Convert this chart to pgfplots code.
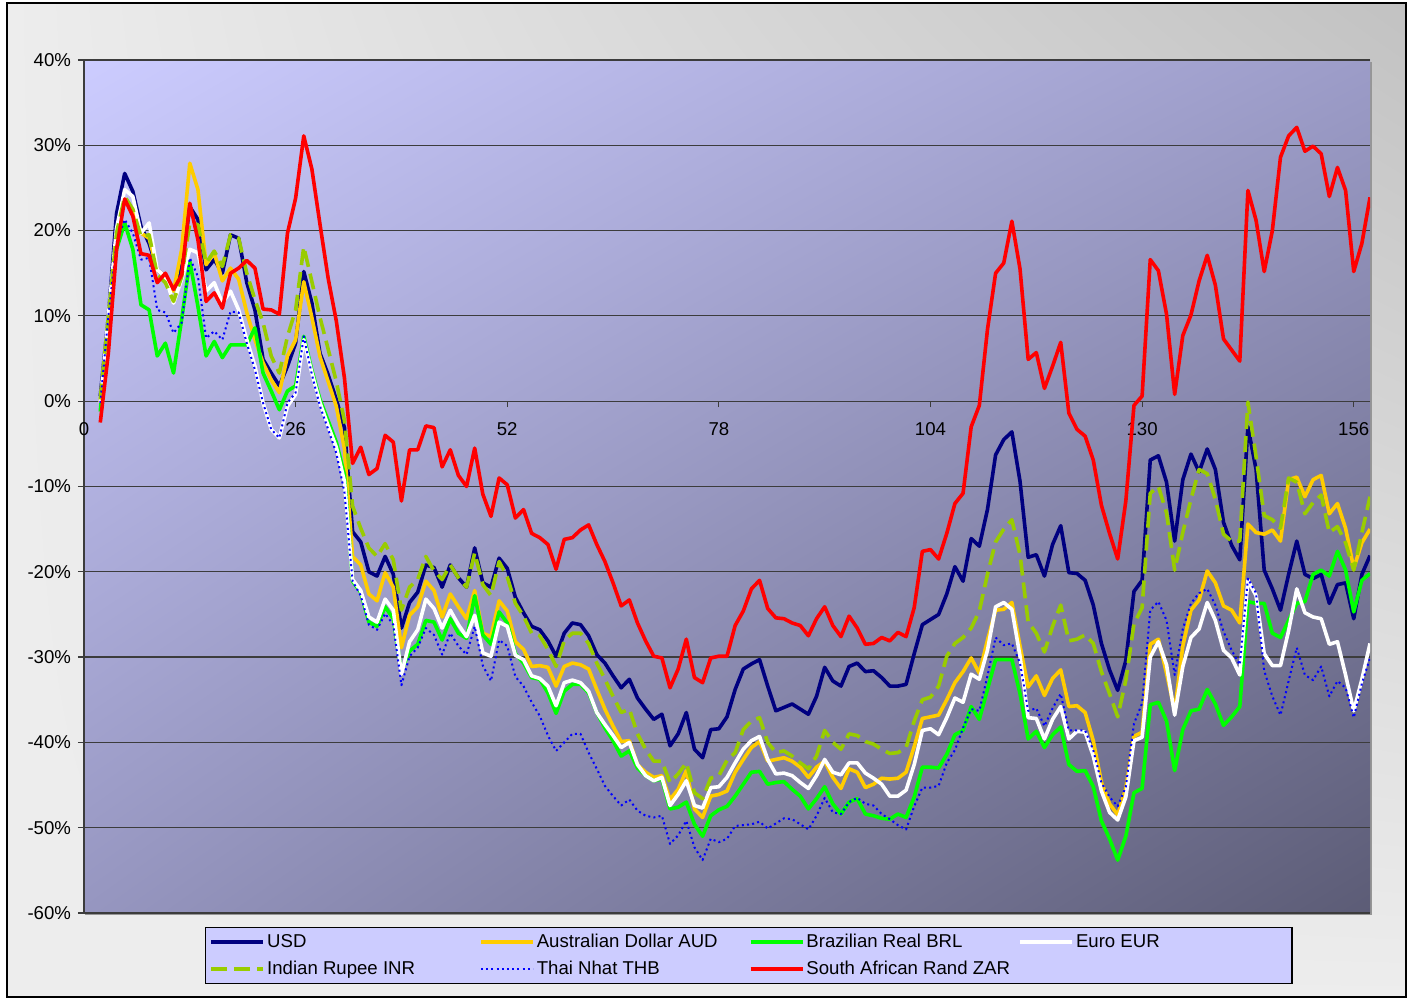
\documentclass[border=0pt]{standalone}
\usepackage{fontspec}
\setmainfont{Liberation Sans}
\usepackage{pgfplots}
\usepackage{pgfplotstable}
\usetikzlibrary{shadings}
\pgfplotsset{compat=1.18}
\definecolor{usd}{RGB}{0,0,128}
\definecolor{aud}{RGB}{255,204,0}
\definecolor{brl}{RGB}{0,255,0}
\definecolor{inr}{RGB}{153,204,0}
\definecolor{thb}{RGB}{0,0,255}
\definecolor{zar}{RGB}{255,0,0}
\definecolor{pa1}{RGB}{204,204,255}
\definecolor{pa2}{RGB}{156,156,200}
\definecolor{pa3}{RGB}{150,150,192}
\definecolor{pa4}{RGB}{92,92,118}
\definecolor{bgA}{RGB}{237,237,237}
\definecolor{bgB}{RGB}{194,194,194}
\definecolor{gridc}{RGB}{60,60,60}
\definecolor{legfill}{RGB}{204,204,255}
\definecolor{shadowc}{RGB}{150,150,150}
\newcommand{\legtxt}[1]{\makebox[105pt][l]{\rule[-2pt]{0pt}{9pt}#1}}

\pgfplotstableread{
x usd aud brl eur inr thb zar
2 0.6 -0.2 -1.2 -0.2 0.2 -0.2 -2.5
3 10 9 9.2 10 10 10 5.7
4 22 19.3 17.8 20.3 19.7 18.6 17.8
5 26.7 23.7 20.9 24.8 24 21.3 23.7
6 24.6 22.3 17.8 24 22.5 19.7 21.7
7 20.5 19.7 11.3 19.7 19.3 16.6 17.3
8 18.5 19.1 10.7 20.9 19.5 16.8 17.1
9 15.4 15.4 5.3 15.4 14.8 10.7 13.9
10 14.6 14.6 6.8 14.6 13.9 10.4 15
11 13 12.9 3.3 11.5 11.7 8 13.1
12 15.8 17.8 9.6 14.3 14.6 9.2 14.8
13 22.8 27.9 16.4 17.8 20.9 16.8 23.2
14 21.3 24.8 11.1 17.4 20.7 14.6 18.9
15 15.4 16 5.3 12.9 16.2 7.4 11.7
16 16.6 17.4 7 13.9 17.6 8.2 12.7
17 15 14.1 5.1 11.5 15.8 7.2 10.9
18 19.5 15.6 6.6 12.9 19.5 10.5 15
19 19.1 14.3 6.6 10.7 19.1 10.4 15.6
20 13.9 10.4 6.6 7.2 15 6.8 16.5
21 10.7 7.2 8.6 4.1 11.9 3.7 15.6
22 4.9 4.5 3.3 -0.2 9.2 -0.2 10.8
23 3.3 2.5 1.2 -3.3 5.3 -3.3 10.7
24 1.8 1 -1 -4.3 3.3 -4.3 10.2
25 4.1 5.3 1.2 -0.6 7.6 -0.2 19.7
26 6.8 7.2 1.8 0.8 10.7 1 23.8
27 15.2 14 7.6 7.2 18.1 7.6 31.1
28 11.5 9.8 3.6 3.3 14 3.1 27.2
29 5.6 5.2 0.2 -0.2 9.8 -0.6 20.7
30 3.1 2.3 -2.3 -2.9 6.1 -3.3 14.4
31 0.2 -0.6 -4.8 -5.4 2.3 -6.1 9.4
32 -3.1 -5.6 -8.6 -9.4 -2.3 -10.7 2.7
33 -15.3 -18.2 -21.1 -20.9 -12.3 -21.1 -7.3
34 -16.5 -19.2 -22.4 -22.2 -14.9 -22.8 -5.4
35 -20 -22.6 -25.9 -25.3 -17.2 -26.2 -8.6
36 -20.5 -23.4 -26.4 -25.9 -18.2 -26.8 -7.9
37 -18.2 -20.1 -24.1 -23.2 -16.7 -24.9 -4
38 -20.3 -21.8 -25.5 -24.5 -18.6 -26.2 -4.8
39 -26.6 -28.9 -31.6 -32 -24.5 -33.3 -11.7
40 -23.6 -25.1 -29.3 -28.2 -21.8 -29.9 -5.7
41 -22.4 -24.1 -28.5 -26.8 -20.9 -28.9 -5.7
42 -19.2 -21.1 -25.7 -23.2 -18.2 -26.6 -2.9
43 -19.5 -22.2 -25.9 -24.3 -19.9 -27.4 -3.1
44 -21.8 -25.3 -28 -26.6 -20.9 -29.7 -7.7
45 -19.2 -22.6 -25.5 -24.5 -19.2 -27.2 -5.7
46 -20.7 -24.1 -27.2 -26.2 -20.7 -28.7 -8.7
47 -21.8 -25.5 -27.8 -27.6 -21.8 -29.7 -10
48 -17.2 -22.2 -22.8 -25.1 -17.8 -26.4 -5.5
49 -21.3 -27.2 -27.4 -29.5 -21.5 -31 -10.9
50 -21.8 -27.6 -28.5 -29.9 -22.8 -32.8 -13.5
51 -18.4 -23.4 -24.7 -25.9 -18.8 -28 -9
52 -19.6 -24.6 -26 -26.4 -20.6 -28.7 -9.8
53 -23 -28.2 -29.6 -29.8 -23.7 -32.3 -13.7
54 -24.8 -29.1 -30.7 -30.3 -25.2 -33.4 -12.7
55 -26.4 -31.1 -32.4 -32.2 -27.2 -35.3 -15.5
56 -26.8 -31 -32.6 -32.5 -27.5 -36.9 -16
57 -28.1 -31.2 -34.2 -33.4 -29.1 -39.2 -16.8
58 -29.9 -33.4 -36.6 -35.7 -31.1 -41 -19.7
59 -27.2 -31.1 -34 -33 -28.1 -40 -16.2
60 -26 -30.7 -33.2 -32.7 -27.2 -39 -16
61 -26.2 -30.9 -33.2 -33 -27.2 -39 -15.1
62 -27.5 -31.4 -34.2 -34 -28.4 -41.2 -14.5
63 -29.7 -33.8 -36.5 -36.5 -30.7 -43.1 -16.8
64 -30.7 -36.1 -38.3 -37.9 -32.6 -45.1 -18.8
65 -32.2 -38.1 -39.8 -39.2 -34.6 -46.3 -21.3
66 -33.6 -39.9 -41.6 -40.6 -36.5 -47.4 -24
67 -32.6 -39.8 -41 -40 -36.1 -46.7 -23.3
68 -34.8 -42.6 -43 -42.6 -39 -48 -26
69 -36.1 -43.5 -43.9 -43.9 -40.8 -48.6 -28.1
70 -37.3 -44.1 -44.5 -44.5 -42.2 -48.8 -29.9
71 -36.7 -43.9 -44.3 -44.1 -42.2 -48.6 -30.1
72 -40.4 -46.7 -47.8 -47.4 -44.7 -51.9 -33.6
73 -39 -45.5 -47.6 -46.1 -43.7 -50.9 -31.4
74 -36.5 -43.3 -47 -44.5 -42.4 -49.2 -27.9
75 -40.8 -47.8 -49.6 -47.4 -45.9 -52.3 -32.4
76 -41.8 -48.8 -51 -47.7 -46.6 -53.8 -33
77 -38.5 -46.3 -48.6 -45.3 -44.2 -51.3 -30.1
78 -38.4 -46.1 -47.9 -45.2 -43.9 -51.7 -29.9
79 -37 -45.7 -47.5 -44.1 -42.1 -51.3 -29.9
80 -33.8 -43.5 -46.3 -42.4 -41.2 -49.8 -26.3
81 -31.4 -42 -44.9 -40.8 -38.5 -49.7 -24.6
82 -30.8 -40.6 -43.5 -39.8 -37.5 -49.6 -22
83 -30.3 -39.9 -43.4 -39.3 -37.1 -49.3 -21
84 -33.4 -42.2 -44.9 -42 -40 -50.1 -24.3
85 -36.3 -42 -44.7 -43.7 -41.2 -49.5 -25.4
86 -35.9 -41.8 -44.6 -43.6 -41 -48.9 -25.5
87 -35.5 -42.2 -45.5 -43.9 -41.6 -49 -26
88 -36.1 -42.9 -46.3 -44.7 -42.4 -49.6 -26.3
89 -36.7 -44.1 -47.8 -45.4 -43.1 -50.2 -27.5
90 -34.6 -42.9 -46.6 -43.9 -41.6 -48.6 -25.5
91 -31.2 -42.2 -45.2 -42 -38.6 -46.5 -24.1
92 -32.8 -44.1 -47.2 -43.5 -40 -48.2 -26.3
93 -33.4 -45.4 -48.4 -43.8 -40.8 -48.4 -27.6
94 -31.1 -43.1 -47 -42.4 -39 -47 -25.2
95 -30.7 -43.5 -46.6 -42.4 -39.2 -46.5 -26.6
96 -31.7 -45.3 -48.4 -43.6 -39.9 -47.2 -28.5
97 -31.6 -44.9 -48.6 -44.2 -40.2 -47.4 -28.4
98 -32.4 -44.2 -48.9 -44.9 -40.8 -48.4 -27.7
99 -33.4 -44.3 -49 -46.3 -41.3 -49 -28.1
100 -33.4 -44.2 -48.4 -46.3 -41.2 -49.7 -27.1
101 -33.2 -43.5 -48.8 -45.6 -40.6 -50.2 -27.6
102 -29.6 -40.5 -46.4 -42.6 -37.5 -47.5 -24.2
103 -26.2 -37.2 -42.9 -38.6 -35 -45.3 -17.6
104 -25.6 -37 -42.9 -38.4 -34.7 -45.3 -17.4
105 -25 -36.8 -43 -39.1 -33.4 -45.1 -18.5
106 -22.6 -35 -41.4 -37.1 -29.9 -42.4 -15.5
107 -19.4 -33 -39.1 -34.8 -28.4 -40.9 -12
108 -21.1 -31.7 -38.6 -35.3 -27.7 -38.3 -10.8
109 -16.1 -30.1 -35.8 -32 -26.6 -36.1 -3
110 -17 -31.9 -37.3 -32.6 -24.6 -36.3 -0.5
111 -12.7 -28 -33.8 -29.2 -20.3 -32.2 8.4
112 -6.3 -24.5 -30.3 -24.1 -16.5 -27.7 15
113 -4.5 -24.4 -30.3 -23.6 -15 -28.6 16.2
114 -3.6 -23.6 -30.3 -24.4 -13.9 -28.4 21.1
115 -9.4 -28.7 -34.3 -29.9 -18 -30.7 15.5
116 -18.3 -33.5 -39.6 -37.1 -25.9 -36.3 4.9
117 -18 -32.2 -38.7 -37.2 -27.2 -36 5.7
118 -20.5 -34.5 -40.6 -39.6 -29.4 -38.1 1.5
119 -16.8 -32.5 -39.1 -37.3 -26.4 -36 4.1
120 -14.6 -31.5 -38.2 -35.8 -23.9 -34.3 6.9
121 -20.1 -35.8 -42.6 -39.6 -28.1 -38.6 -1.4
122 -20.2 -35.7 -43.4 -38.7 -27.9 -38.6 -3.3
123 -21 -36.5 -43.3 -38.8 -27.4 -38.6 -4.1
124 -23.9 -39.8 -45.2 -41.6 -28.4 -40.9 -6.9
125 -28.4 -44.7 -49.2 -45.7 -31.7 -44.7 -12.2
126 -31.5 -47.2 -51.3 -48.2 -34.3 -46.4 -15.5
127 -33.9 -48.5 -53.8 -49.1 -37 -47.5 -18.5
128 -30.4 -45.4 -51 -46.4 -32.7 -45.2 -11.7
129 -22.3 -39.3 -45.9 -39.8 -26.1 -37.8 -0.5
130 -21 -38.8 -45.4 -39.4 -24.2 -35.4 0.6
131 -6.9 -28.5 -35.6 -30 -10.8 -24.5 16.6
132 -6.4 -27.9 -35.3 -28.2 -10 -23.5 15.3
133 -9.5 -31.9 -37.5 -30.9 -13.1 -25.7 10.2
134 -16.4 -36.3 -43.3 -36.8 -19.8 -32.1 0.8
135 -9.2 -28.7 -38.5 -31.1 -15.4 -26.7 7.7
136 -6.2 -24.5 -36.3 -27.7 -11.5 -23.7 10.1
137 -8.3 -23.3 -36.1 -26.7 -8 -22.5 14.1
138 -5.6 -19.9 -33.8 -23.6 -8.5 -22 17.1
139 -8 -21.3 -35.5 -25.7 -11.5 -23.9 13.6
140 -14.2 -24 -38 -29.2 -15.6 -27 7.3
141 -16.9 -24.5 -37 -30.1 -16.4 -29.2 6
142 -18.6 -26 -35.8 -32.1 -16.4 -30.9 4.7
143 -3 -14.4 -23.5 -21 -0.1 -20.8 24.7
144 -8 -15.4 -23.7 -22.8 -6.5 -22.5 21.2
145 -19.8 -15.6 -23.7 -29.6 -13.4 -31.6 15.2
146 -22 -15.1 -27.2 -31 -13.9 -34.6 20
147 -24.5 -16.4 -27.7 -31 -14.9 -36.8 28.6
148 -20.3 -9.2 -25.7 -26.9 -9 -32.8 31.1
149 -16.4 -8.9 -23.7 -22 -9.5 -28.9 32.1
150 -20.3 -11.2 -23.5 -24.8 -13.2 -32.1 29.3
151 -20.8 -9.2 -20.3 -25.3 -11.9 -32.7 29.9
152 -20.3 -8.7 -19.8 -25.5 -11 -31.1 29
153 -23.7 -13.2 -20.5 -28.5 -15.4 -34.6 24
154 -21.5 -12 -17.6 -28.2 -14.7 -32.8 27.4
155 -21.3 -14.9 -19.8 -32.1 -16.6 -33.6 24.7
156 -25.5 -19.6 -24.7 -36.3 -19.8 -37.1 15.2
157 -20.3 -16.6 -21 -32.6 -15.4 -33.1 18.5
158 -18.1 -15 -20.2 -28.4 -11.2 -30.1 23.9
}\data

\begin{document}
\begin{tikzpicture}
\path[use as bounding box, fill=white] (0,0) rectangle (706pt,500pt);
\shade[upper left=bgA, upper right=bgB, lower left=bgA, lower right=bgA] (3.5pt,1.5pt) rectangle (703pt,498.5pt);
\draw[black, line width=0.9pt] (3.5pt,1.5pt) rectangle (703pt,498.5pt);
\draw[shadowc, line width=1pt] (685.5pt,469pt) -- (685.5pt,43pt) -- (42.5pt,43pt);
\begin{axis}[
  at={(42pt,43.5pt)}, anchor=south west,
  scale only axis, width=643pt, height=426.5pt,
  xmin=0, xmax=158, ymin=-60, ymax=40,
  axis x line*=middle, axis y line*=left,
  hide obscured x ticks=false, hide obscured y ticks=false,
  axis line style={gridc, line width=0.6pt},
  axis background/.style={shade, upper left=pa1, upper right=pa2, lower left=pa3, lower right=pa4},
  xtick={0,26,52,78,104,130,156},
  ytick={-60,-50,-40,-30,-20,-10,0,10,20,30,40},
  yticklabels={-60\%,-50\%,-40\%,-30\%,-20\%,-10\%,0\%,10\%,20\%,30\%,40\%},
  tick align=outside, major tick length=3pt,
  tick style={gridc, line width=0.6pt},
  ymajorgrids, major grid style={gridc, line width=0.6pt},
  tick label style={font=\fontsize{9.3}{11}\selectfont, text=black},
  xticklabel style={yshift=-4pt},
  /pgf/number format/assume math mode=true,
  legend columns=4,
  legend cell align=left,
  legend image code/.code={\draw[#1] (0pt,0pt) -- (26pt,0pt);},
  legend style={at={(axis description cs:0.0941,-0.0164)}, anchor=north west,
    fill=legfill, draw=black, line width=0.6pt,
    font=\fontsize{9.3}{11}\selectfont,
    inner xsep=2pt, inner ysep=2pt, row sep=3pt, column sep=0pt,
    nodes={inner sep=1pt}},
  every axis plot/.append style={line join=round},
]
\addplot[usd, line width=1.8pt] table[x=x, y=usd] {\data};
\addlegendentry{\legtxt{USD}}
\addplot[aud, line width=1.8pt] table[x=x, y=aud] {\data};
\addlegendentry{\legtxt{Australian Dollar AUD}}
\addplot[brl, line width=1.8pt] table[x=x, y=brl] {\data};
\addlegendentry{\legtxt{Brazilian Real BRL}}
\addplot[white, line width=1.8pt] table[x=x, y=eur] {\data};
\addlegendentry{\legtxt{Euro EUR}}
\addplot[inr, line width=1.8pt, dash pattern=on 8pt off 3.5pt] table[x=x, y=inr] {\data};
\addlegendentry{\legtxt{Indian Rupee INR}}
\addplot[thb, line width=1pt, dash pattern=on 1pt off 1.6pt] table[x=x, y=thb] {\data};
\addlegendentry{\legtxt{Thai Nhat THB}}
\addplot[zar, line width=1.8pt] table[x=x, y=zar] {\data};
\addlegendentry{\legtxt{South African Rand ZAR}}
\end{axis}
\end{tikzpicture}
\end{document}
